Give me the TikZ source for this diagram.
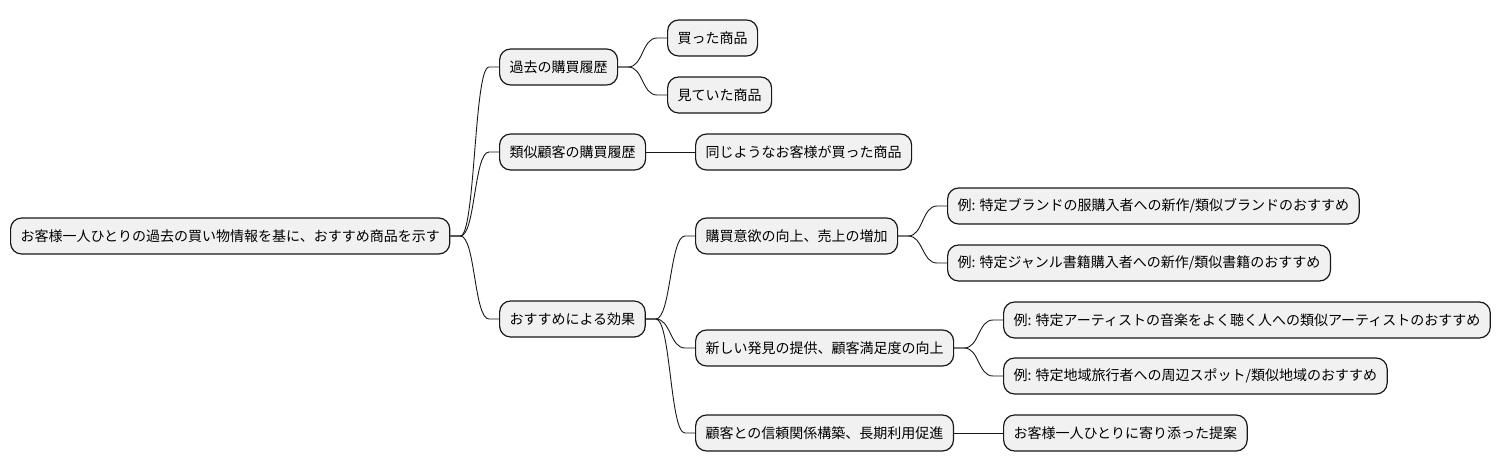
\documentclass[tikz,border=0pt]{standalone}
\usepackage{fontspec}
\setmainfont{Noto Sans CJK JP}
\usepackage{tikz}
\usetikzlibrary{calc}
\definecolor{mmfill}{HTML}{F1F1F1}
\definecolor{mmline}{HTML}{181818}
\tikzset{
  mmnode/.style={draw=mmline,line width=1.2pt,rounded corners=11pt,fill=mmfill,inner xsep=10pt,inner ysep=0pt,minimum height=36pt,anchor=west,font=\fontsize{14}{16}\selectfont},
  mmedge/.style={draw=mmline,line width=0.9pt},
}
\newcommand{\mmlink}[2]{\draw[mmedge] (#1.east) -- ++(10,0) .. controls +(15,0) and +(-15,0) .. ($(#2.west)+(-10,0)$) -- (#2.west);}

\begin{document}
\begin{tikzpicture}[x=1pt,y=-1pt]
\useasboundingbox (0,0) rectangle (1506,471);
% root
\node[mmnode] (root) at (10,236) {お客様一人ひとりの過去の買い物情報を基に、おすすめ商品を示す};
% level 1
\node[mmnode] (past) at (499,67) {過去の購買履歴};
\node[mmnode] (sim) at (499,152) {類似顧客の購買履歴};
\node[mmnode] (eff) at (499,319) {おすすめによる効果};
% level 2
\node[mmnode] (bought) at (667,38) {買った商品};
\node[mmnode] (viewed) at (667,95) {見ていた商品};
\node[mmnode] (same) at (695,152) {同じようなお客様が買った商品};
\node[mmnode] (buy) at (695,236) {購買意欲の向上、売上の増加};
\node[mmnode] (disc) at (695,348) {新しい発見の提供、顧客満足度の向上};
\node[mmnode] (trust) at (695,433) {顧客との信頼関係構築、長期利用促進};
% level 3
\node[mmnode] (brand) at (947,206) {例: 特定ブランドの服購入者への新作/類似ブランドのおすすめ};
\node[mmnode] (genre) at (947,263) {例: 特定ジャンル書籍購入者への新作/類似書籍のおすすめ};
\node[mmnode] (artist) at (1003,320) {例: 特定アーティストの音楽をよく聴く人への類似アーティストのおすすめ};
\node[mmnode] (region) at (1003,376) {例: 特定地域旅行者への周辺スポット/類似地域のおすすめ};
\node[mmnode] (close) at (1003,433) {お客様一人ひとりに寄り添った提案};
% links
\mmlink{root}{past}
\mmlink{root}{sim}
\mmlink{root}{eff}
\mmlink{past}{bought}
\mmlink{past}{viewed}
\draw[mmedge] (sim.east) -- (same.west);
\mmlink{eff}{buy}
\mmlink{eff}{disc}
\mmlink{eff}{trust}
\mmlink{buy}{brand}
\mmlink{buy}{genre}
\mmlink{disc}{artist}
\mmlink{disc}{region}
\draw[mmedge] (trust.east) -- (close.west);
\end{tikzpicture}
\end{document}
